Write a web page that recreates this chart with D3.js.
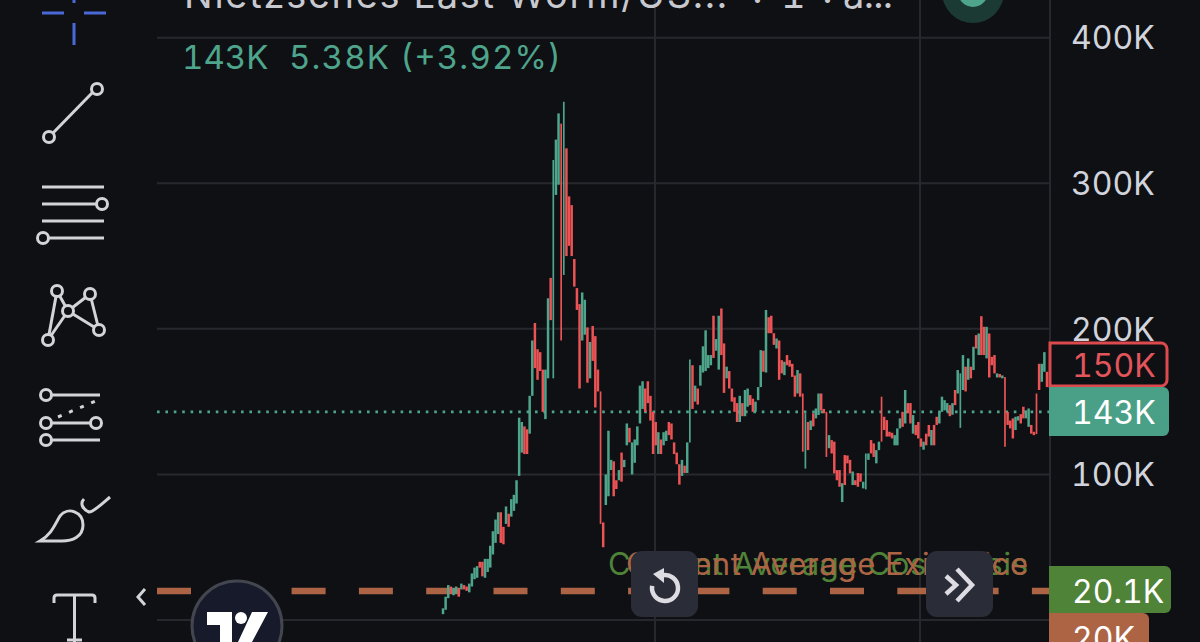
<!DOCTYPE html>
<html><head><meta charset="utf-8">
<script src="https://cdn.jsdelivr.net/npm/d3@7/dist/d3.min.js"></script>
<style>html,body{margin:0;padding:0;background:#0e1014;overflow:hidden}svg{display:block}text{font-family:"Inter","Liberation Sans",sans-serif;font-feature-settings:"tnum";font-variant-numeric:tabular-nums}</style>
</head><body><svg id="c" width="1200" height="642"></svg>
<script>
const yTicks=[0,100,200,300,400];
const yLabels=[100,200,300,400];
const lastPrice=143, marketPrice=150, avgCost=20.1, avgExit=20;
const titleParts=["Nietzsches Last Worm/US...","·","1","·","a..."];
const legendText=["143K","5.38K (+3.92%)"];
const highs=[8,16,24,23,22,23,22,25,24,23,25,32,36,37,40,40,42,42,51,61,69,74,74,64,78,73,83,86,96,139,136,133,131,154,192,204,186,184,172,172,221,235,316,330,348,341,356,324,291,285,248,228,217,225,220,201,191,202,195,172,157,67,100,130,110,109,96,103,115,110,135,132,122,124,133,161,164,159,164,154,143,136,129,124,129,130,136,135,122,115,107,110,106,122,179,175,161,159,175,188,199,182,182,209,193,209,214,190,174,171,159,153,149,154,149,158,
159,154.5,152,150,160,185.4,185,213,208,209,197,193.4,192,178.5,177.4,182,178.5,176,168,171.7,169.4,155.6,142,136,137,142,145.3,155.6,155.6,145,143,127,123.6,122.5,103,103,94,113.3,113,110,102,96,101,100.7,95,114.4,114.4,123.6,121.3,116.7,122.5,153.4,139.6,137.3,129.3,128.6,127,131.6,138.5,143,158,149,149,140.8,134,136,124.7,122.5,128,134,130.5,134,139.6,143,153.4,151,149,147.6,149,158,171.7,169.4,182,174,179.7,174,187.7,195.7,196.8,208.7,201.4,201.4,196.8,180.8,182,169.4,169,168,167,143,137,138.5,139.6,140,141.4,146.5,144,145.3,134,129.3,155.6,176,176,184,170.5];
const lows=[4,7,15,18,17,18,16,21,21,20,19,23,28,29,36,30,29,33,36,45,53,59,53,52,66,64,71,75,80,99,115,114,114,128,154,173,165,171,143,138,166,206,166,292,299,192,237,250,257,250,229,213,159,192,196,163,166,178,146,157,66,50,79,85,103,85,90,96,95,105,120,122,100,108,120,135,145,143,149,137,114,120,114,114,120,123,127,124,114,107,93,99,101,101,122,145,150,148,161,170,171,173,175,180,185,172,182,156,166,159,150,143,136,136,140,140,
146.5,147.6,143,143,151,160,170.5,170,197,197,189,186.5,165,169.4,168.2,175,174,167,153.4,155.6,153.4,115.6,104,116.7,130.5,133,138.5,140.8,144,142,112,118,114.4,100.7,96,91.5,81,92.7,107.6,100.7,92.7,92.7,91.5,95,90.4,89.7,110,114.4,112,107.6,116.7,122.5,130.5,126,126,124.7,120,120,131.6,132.7,135,142,135,128,127,124.7,119,117,120,126,120,120,134,135,143,144,143,140,141,147.6,155.6,132,158,157,165,166,171.7,186.5,182,182,182,179.7,166.6,175,169.4,166.6,166.6,166,119,134,131.6,124.7,130.5,137,135,138.5,138.5,132.7,128,127,127.7,158,163.6,170.5,160];
const rising=("UUUDUUDUDDUUUUDDUUUUUUDDUDUUUUUDDUUDDDDUUDUUUDUDDDDDDUUDUDDDDDUUUDDUDUUDUUUUUDDDDDUDUUDDDDDUDUUDUDUUUUUDUUDDUDDDDUDU"+
"UDDUUUDUDDDUDDUDDDDUDDUDUDUUDDDUDDDDUDDDUDDDUUUDDUUDDDDDUUUDUDDUDDDUDDUDDUUUUDUDUUUDUDUDUDDUDDDUDUDDDDUUDDUUDDDDUUDDD").split("").map(d=>d==="U");
const thinBars=[42,45,46,60,94,137,138,146,161,167,197,214,226];

const W=1200,H=642,left=157,right=1050;
const colors={bg:"#0e1014",grid:"#26282d",up:"#4fa58c",down:"#ec5355",axis:"#d1d4dc",title:"#c8c9ce",green:"#4f8338",orange:"#ad6445",icon:"#d3d4d8",blue:"#4a68d8",btn:"#2a2c37"};
const svg=d3.select("#c");
svg.append("rect").attr("width",W).attr("height",H).attr("fill",colors.bg);
const y=d3.scaleLinear().domain([0,400]).range([620,37.7]);
const x=d3.scaleLinear().domain([0,highs.length-1]).range([443,1047]);
const xGrid=[655,920,right];
svg.append("g").selectAll("line").data(yTicks).join("line").attr("x1",left).attr("x2",right).attr("y1",d=>y(d)).attr("y2",d=>y(d)).attr("stroke",colors.grid).attr("stroke-width",2);
svg.append("g").selectAll("line").data(xGrid).join("line").attr("x1",d=>d).attr("x2",d=>d).attr("y1",0).attr("y2",H).attr("stroke",colors.grid).attr("stroke-width",2);
// price lines
svg.append("line").attr("x1",left).attr("x2",right).attr("y1",y(lastPrice)).attr("y2",y(lastPrice)).attr("stroke",colors.up).attr("stroke-width",2.6).attr("stroke-dasharray","2.6 5.8");
svg.append("line").attr("x1",left).attr("x2",right).attr("y1",y(avgExit)).attr("y2",y(avgExit)).attr("stroke",colors.orange).attr("stroke-width",6.5).attr("stroke-dasharray","34 33.3");
// bars
const candles=highs.map((h,i)=>({i,h,l:lows[i],up:rising[i],thin:thinBars.includes(i)}));
svg.append("g").selectAll("line").data(candles).join("line")
 .attr("x1",d=>x(d.i)).attr("x2",d=>x(d.i)).attr("y1",d=>y(d.h)).attr("y2",d=>y(d.l))
 .attr("stroke",d=>d.up?colors.up:colors.down).attr("stroke-width",d=>d.thin?1.7:2.5);
// axis labels
const axis=d3.axisRight(y).tickValues(yLabels).tickSize(0).tickPadding(0).tickFormat(d=>d+"K");
const ag=svg.append("g").attr("transform","translate(1071,1)").call(axis);
ag.select(".domain").remove();
ag.selectAll("text").attr("fill",colors.axis).attr("font-size",32).style("font-family","Inter,'Liberation Sans',sans-serif");
// header
svg.append("text").text(titleParts[0]).attr("x",184).attr("y",8).attr("fill",colors.title).attr("font-size",38).attr("textLength",543);
svg.append("text").text(titleParts[1]).attr("x",752).attr("y",14).attr("fill",colors.title).attr("font-size",38);
svg.append("text").text(titleParts[2]).attr("x",781).attr("y",8).attr("fill",colors.title).attr("font-size",38);
svg.append("text").text(titleParts[3]).attr("x",822).attr("y",14).attr("fill",colors.title).attr("font-size",38);
svg.append("text").text(titleParts[4]).attr("x",843).attr("y",8).attr("fill",colors.title).attr("font-size",38).attr("textLength",50);
svg.append("text").text(legendText[0]).attr("x",182).attr("y",69).attr("fill",colors.up).attr("font-size",33);
svg.append("text").text(legendText[1]).attr("x",289).attr("y",69).attr("fill",colors.up).attr("font-size",33).attr("textLength",272);
svg.append("circle").attr("cx",973).attr("cy",-8).attr("r",31).attr("fill","#1c3a34");
svg.append("circle").attr("cx",973).attr("cy",-8).attr("r",15).attr("fill",colors.up);
// price badges
function badge(x0,y0,w,h,fill,stroke,label,tc,lx,ly){
 svg.append("path").attr("d",`M${x0},${y0}h${w-6}a6,6 0 0 1 6,6v${h-12}a6,6 0 0 1 -6,6h${-(w-6)}z`).attr("fill",fill).attr("stroke",stroke||"none").attr("stroke-width",3);
 svg.append("text").text(label).attr("x",lx).attr("y",ly).attr("fill",tc).attr("font-size",32);
}
badge(1050,343,117,43,colors.bg,"#dc4a4e",marketPrice+"K","#e2555a",1072,377);
badge(1049,387,120,49,"#4a9f87",null,lastPrice+"K","#fff",1072,424);
badge(1049,613,100,40,colors.orange,null,avgExit+"K","#fff",1072,650);
badge(1049,566,122,47,colors.green,null,avgCost+"K","#fff",1072,603);
// overlaid labels
svg.append("text").text("Current Average Cost Basis").attr("x",608).attr("y",575).attr("fill",colors.green).attr("font-size",31).attr("textLength",420);
svg.append("text").text("Current Average Exit Price").attr("x",626).attr("y",575).attr("fill",colors.orange).attr("font-size",31).attr("textLength",402);
// buttons
[[631,551],[926,551]].forEach(([a,b])=>{svg.append("rect").attr("x",a).attr("y",b).attr("width",67).attr("height",66).attr("rx",11).attr("fill",colors.btn);});
const ic=svg.append("g").attr("fill","none").attr("stroke","#dcdce2").attr("stroke-width",4.5);
ic.append("path").attr("d",d3.arc()({innerRadius:13,outerRadius:13,startAngle:-0.2,endAngle:Math.PI*1.55})).attr("transform","translate(665,588)");
svg.append("path").attr("d","M664,568l-11,6l11,9z").attr("fill","#dcdce2");
ic.append("path").attr("d","M946,576l10,9l-10,9M957,569l15,16l-15,16");
// toolbar
const t=svg.append("g").attr("fill","none").attr("stroke",colors.icon).attr("stroke-width",3);
function ln(a,b,c,d){t.append("line").attr("x1",a).attr("y1",b).attr("x2",c).attr("y2",d);}
function ci(a,b,r=5.5){t.append("circle").attr("cx",a).attr("cy",b).attr("r",r).attr("fill",colors.bg);}
const b=svg.append("g").attr("stroke",colors.blue).attr("stroke-width",3);
[[42,13,64,13],[84,13,106,13],[74,23,74,45],[74,0,74,3]].forEach(s=>b.append("line").attr("x1",s[0]).attr("y1",s[1]).attr("x2",s[2]).attr("y2",s[3]));
ln(53,133,92,93);ci(49,137);ci(97,89);
ln(42,187,104,187);ln(42,204,97,204);ci(102,204);ln(42,221,104,221);ln(49,238,104,238);ci(43,238);
ln(57,291,48,340);ln(57,291,68,311);ln(48,340,68,311);ln(68,311,90,294);ln(90,294,99,330);ln(68,311,99,330);ci(57,291);ci(90,294);ci(68,311);ci(48,340);ci(99,330);
ln(46,395,100,395);ci(46,395);ln(46,423,96,423);ci(46,423);ci(96,423);ln(46,440,100,440);ci(46,440);
t.append("line").attr("x1",58).attr("y1",417).attr("x2",98).attr("y2",400).attr("stroke-dasharray","4 8");
t.append("path").attr("d","M40,541C52,534 55,524 60,516C68,506 83,512 83,525C83,537 72,541 62,541Z");
t.append("path").attr("d","M84,499C80,503 82,509 89,512C94,512 104,502 110,497");
t.append("path").attr("d","M54,603V598Q54,595 57,595H92Q95,595 95,598V603M74.5,595V642M67,640H82");
t.append("path").attr("d","M145,589L138,597L145,605");
// logo
svg.append("circle").attr("cx",237).attr("cy",626).attr("r",45).attr("fill","#161a2b").attr("stroke","#43454f").attr("stroke-width",3);
svg.append("path").attr("d","M207,612H232V642H220V625H207ZM252,612H268L252,642H238Z").attr("fill","#fff");
svg.append("circle").attr("cx",241).attr("cy",618).attr("r",6).attr("fill","#fff");
</script></body></html>
